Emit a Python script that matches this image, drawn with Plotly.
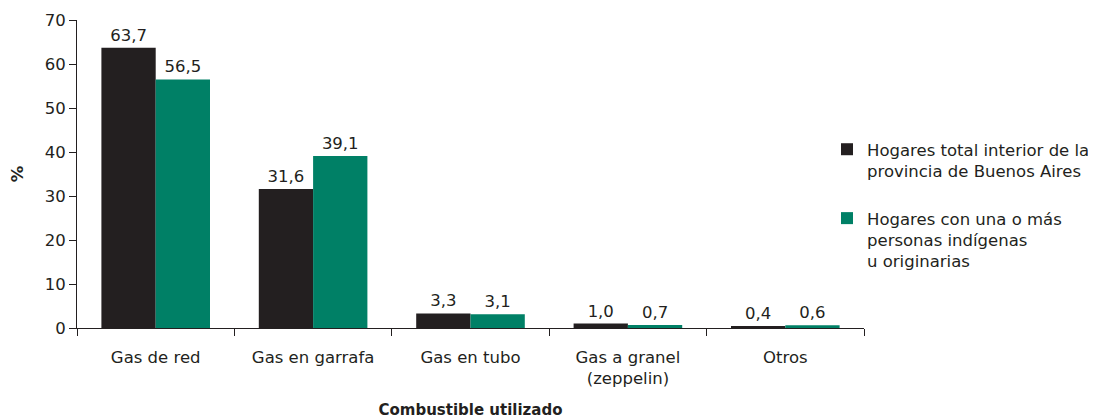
import plotly.graph_objects as go

categories = ["Gas de red", "Gas en garrafa", "Gas en tubo", "Gas a granel<br>(zeppelin)", "Otros"]
total_interior = [63.7, 31.6, 3.3, 1.0, 0.4]
indigenas = [56.5, 39.1, 3.1, 0.7, 0.6]
series_names = ["Hogares total interior de la<br>provincia de Buenos Aires",
                "Hogares con una o más<br>personas indígenas<br>u originarias"]
y_ticks = [0, 10, 20, 30, 40, 50, 60, 70]

FONT = "DejaVu Sans, Liberation Sans, Arial, sans-serif"
TXT = "#231f20"
FS = 16.5

# the page body adds an 8px offset; figure size and margins compensate for it
W, H = 1088, 411
L, T, PW, PH = 69, 12, 787, 308

def fmt(v):
    return f"{v:.1f}".replace(".", ",")

fig = go.Figure()
fig.add_trace(go.Bar(
    x=categories, y=total_interior, name=series_names[0], legendgroup="a",
    marker=dict(color="#231f20", line=dict(width=0)),
    text=[fmt(v) for v in total_interior], textposition="outside",
    textfont=dict(size=FS, color=TXT, family=FONT), cliponaxis=False,
))
fig.add_trace(go.Bar(
    x=categories, y=indigenas, name=series_names[1], legendgroup="b",
    marker=dict(color="#008066", line=dict(width=0)),
    text=[fmt(v) for v in indigenas], textposition="outside",
    textfont=dict(size=FS, color=TXT, family=FONT), cliponaxis=False,
))

fig.update_layout(
    width=W, height=H,
    margin=dict(l=L, r=W - L - PW, t=T, b=H - T - PH, autoexpand=False),
    paper_bgcolor="white", plot_bgcolor="white",
    barmode="group", bargap=0.31, bargroupgap=0,
    font=dict(family=FONT, size=FS, color=TXT),
    showlegend=True,
    legend=dict(
        x=(819 - L) / PW, y=(T + PH - 124) / PH, xanchor="left", yanchor="top",
        font=dict(size=FS, color=TXT, family=FONT),
        valign="top", tracegroupgap=23, itemwidth=30,
        bgcolor="rgba(0,0,0,0)",
    ),
    xaxis=dict(
        automargin=False,
        showline=True, linecolor="#231f20", linewidth=1,
        ticks="outside", tickson="boundaries", ticklen=7, tickcolor="#231f20",
        ticklabelstandoff=14,
        tickfont=dict(size=FS, color=TXT),
        title=dict(text="<b>Combustible utilizado</b>", font=dict(size=15, color=TXT), standoff=20),
    ),
    yaxis=dict(
        automargin=False,
        range=[0, 70], tickvals=y_ticks, showgrid=False, zeroline=False,
        showline=True, linecolor="#231f20", linewidth=1,
        ticks="outside", ticklen=7, tickcolor="#231f20",
        tickfont=dict(size=FS, color=TXT),
        title=dict(text="<b>%</b>", font=dict(size=FS, color=TXT), standoff=24),
    ),
)

fig.write_html("out.html")
